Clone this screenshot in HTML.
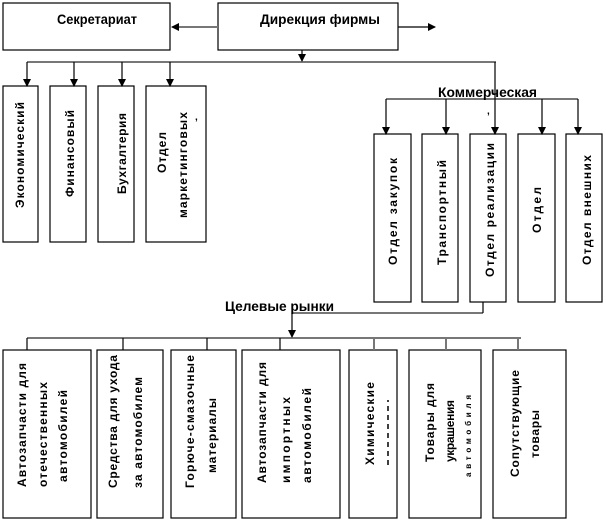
<!DOCTYPE html>
<html><head><meta charset="utf-8"><style>
html,body{margin:0;padding:0;background:#fff;}
svg{display:block;}
text{font-family:"Liberation Sans",Arial,sans-serif;font-weight:bold;fill:#000;}
.v{font-size:12px;}
</style></head><body>
<svg width="606" height="522" viewBox="0 0 606 522" xmlns="http://www.w3.org/2000/svg">
<defs><marker id="a" markerWidth="8" markerHeight="8" refX="7" refY="4" orient="auto" markerUnits="userSpaceOnUse"><path d="M0,0 L8,4 L0,8 z" fill="#000"/></marker></defs>
<g fill="none" stroke="#000" stroke-width="1.2">
<rect x="3" y="3" width="167" height="47"/>
<rect x="218" y="3" width="180" height="47"/>
<rect x="3" y="86" width="35" height="156"/>
<rect x="50" y="86" width="36" height="156"/>
<rect x="98" y="86" width="36" height="156"/>
<rect x="146" y="86" width="60" height="156"/>
<rect x="374" y="134" width="37" height="168"/>
<rect x="422" y="134" width="36" height="168"/>
<rect x="470" y="134" width="36" height="168"/>
<rect x="518" y="134" width="37" height="168"/>
<rect x="566" y="134" width="36" height="168"/>
<rect x="3" y="350" width="88" height="168"/>
<rect x="97" y="350" width="66" height="168"/>
<rect x="171" y="350" width="65" height="168"/>
<rect x="242" y="350" width="98" height="168"/>
<rect x="349" y="350" width="48" height="168"/>
<rect x="409" y="350" width="72" height="168"/>
<rect x="493" y="350" width="73" height="168"/>
</g>
<g stroke="#777" stroke-width="2" fill="none">
<line x1="218" y1="27" x2="178" y2="27"/>
<line x1="27" y1="62" x2="496" y2="62"/>
<line x1="386" y1="99" x2="578" y2="99"/>
<line x1="27" y1="338" x2="521" y2="338"/>
<line x1="292" y1="313" x2="483" y2="313"/>
<line x1="374" y1="338" x2="374" y2="350"/>
<line x1="446" y1="338" x2="446" y2="350"/>
<line x1="518" y1="338" x2="518" y2="350"/>
</g>
<g stroke="#000" stroke-width="1.2" fill="none">
<line x1="178" y1="27" x2="172" y2="27" marker-end="url(#a)"/>
<line x1="398" y1="27" x2="435" y2="27" marker-end="url(#a)"/>
<line x1="302" y1="50" x2="302" y2="61" marker-end="url(#a)"/>
<line x1="27" y1="62" x2="27" y2="86" marker-end="url(#a)"/>
<line x1="74" y1="62" x2="74" y2="86" marker-end="url(#a)"/>
<line x1="122" y1="62" x2="122" y2="86" marker-end="url(#a)"/>
<line x1="170" y1="62" x2="170" y2="86" marker-end="url(#a)"/>
<line x1="495" y1="62" x2="495" y2="134" marker-end="url(#a)"/>
<line x1="386" y1="99" x2="386" y2="134" marker-end="url(#a)"/>
<line x1="446" y1="99" x2="446" y2="134" marker-end="url(#a)"/>
<line x1="542" y1="99" x2="542" y2="134" marker-end="url(#a)"/>
<line x1="578" y1="99" x2="578" y2="134" marker-end="url(#a)"/>
<polyline points="483,302 483,313"/>
<line x1="292" y1="313" x2="292" y2="337" marker-end="url(#a)"/>
<line x1="27" y1="338" x2="27" y2="350"/>
<line x1="123" y1="338" x2="123" y2="350"/>
<line x1="207" y1="338" x2="207" y2="350"/>
<line x1="280" y1="338" x2="280" y2="350"/>
</g>
<text x="57" y="24" font-size="14" textLength="80" lengthAdjust="spacingAndGlyphs">Секретариат</text>
<text x="260" y="24" font-size="14" textLength="120" lengthAdjust="spacingAndGlyphs">Дирекция фирмы</text>
<text x="438" y="97" font-size="14" textLength="99" lengthAdjust="spacingAndGlyphs">Коммерческая</text>
<text x="225" y="311" font-size="14" textLength="109" lengthAdjust="spacingAndGlyphs">Целевые рынки</text>
<text x="487" y="114" font-size="10">,</text>
<text x="195" y="120" font-size="10">,</text>
<g class="v">
<text transform="translate(24,208) rotate(-90)" textLength="106" lengthAdjust="spacing">Экономический</text>
<text transform="translate(74,197) rotate(-90)" textLength="87" lengthAdjust="spacing">Финансовый</text>
<text transform="translate(126,194) rotate(-90)" textLength="81" lengthAdjust="spacing">Бухгалтерия</text>
<text transform="translate(166,173) rotate(-90)" textLength="41" lengthAdjust="spacing">Отдел</text>
<text transform="translate(187,218) rotate(-90)" textLength="106" lengthAdjust="spacing">маркетинговых</text>
<text transform="translate(397,265) rotate(-90)" textLength="107" lengthAdjust="spacing">Отдел закупок</text>
<text transform="translate(446,265) rotate(-90)" textLength="105" lengthAdjust="spacing">Транспортный</text>
<text transform="translate(494,277) rotate(-90)" textLength="134" lengthAdjust="spacing">Отдел реализации</text>
<text transform="translate(541,233) rotate(-90)" textLength="46" lengthAdjust="spacing">Отдел</text>
<text transform="translate(591,265) rotate(-90)" textLength="110" lengthAdjust="spacing">Отдел внешних</text>
<text transform="translate(26,487) rotate(-90)" textLength="124" lengthAdjust="spacing">Автозапчасти для</text>
<text transform="translate(47,487) rotate(-90)" textLength="105" lengthAdjust="spacing">отечественных</text>
<text transform="translate(67,482) rotate(-90)" textLength="92" lengthAdjust="spacing">автомобилей</text>
<text transform="translate(117,488) rotate(-90)" textLength="133" lengthAdjust="spacing">Средства для ухода</text>
<text transform="translate(142,488) rotate(-90)" textLength="111" lengthAdjust="spacing">за автомобилем</text>
<text transform="translate(194,488) rotate(-90)" textLength="133" lengthAdjust="spacing">Горюче-смазочные</text>
<text transform="translate(216,473) rotate(-90)" textLength="75" lengthAdjust="spacing">материалы</text>
<text transform="translate(266,483) rotate(-90)" textLength="121" lengthAdjust="spacing">Автозапчасти для</text>
<text transform="translate(290,483) rotate(-90)" textLength="86" lengthAdjust="spacing">импортных</text>
<text transform="translate(311,483) rotate(-90)" textLength="95" lengthAdjust="spacing">автомобилей</text>
<text transform="translate(374,465) rotate(-90)" textLength="83" lengthAdjust="spacing">Химические</text>
<text transform="translate(434,462) rotate(-90)" textLength="79" lengthAdjust="spacing">Товары для</text>
<text transform="translate(454,462) rotate(-90)" textLength="62" lengthAdjust="spacing">украшения</text>
<text transform="translate(471,477) rotate(-90)" font-size="8" textLength="82" lengthAdjust="spacing">автомобиля</text>
<text transform="translate(519,477) rotate(-90)" textLength="107" lengthAdjust="spacing">Сопутствующие</text>
<text transform="translate(539,458) rotate(-90)" textLength="48" lengthAdjust="spacing">товары</text>
</g>
<line x1="388" y1="465" x2="388" y2="400" stroke="#000" stroke-width="1.5" stroke-dasharray="5,4"/>
</svg>
</body></html>
